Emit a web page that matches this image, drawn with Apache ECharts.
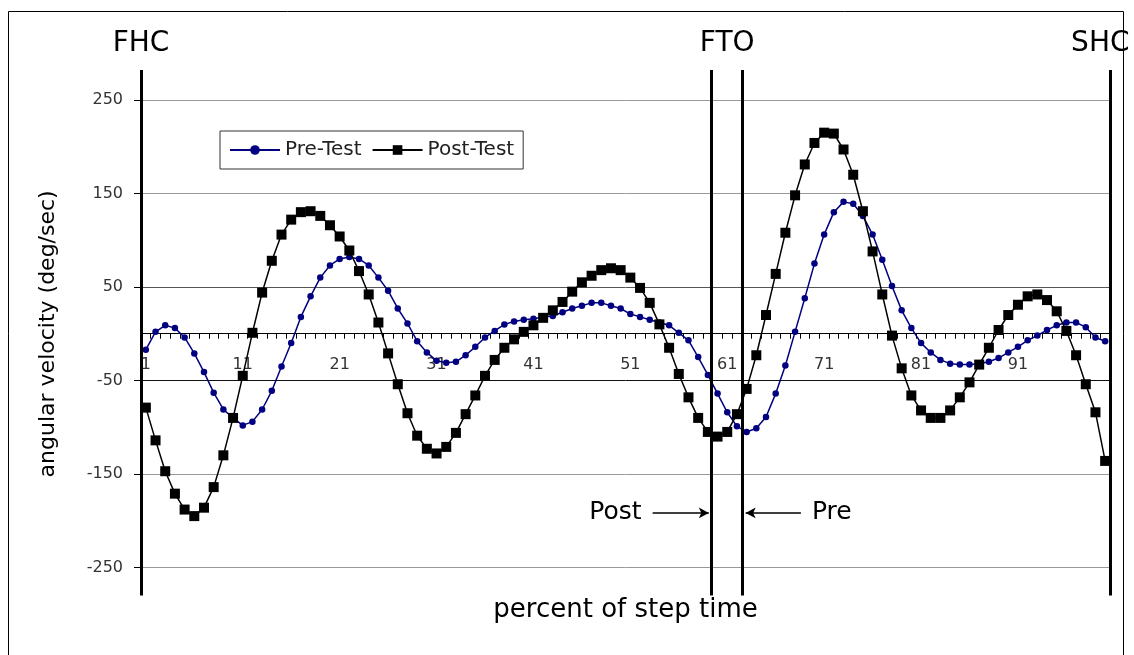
<!DOCTYPE html>
<html><head><meta charset="utf-8">
<script src="https://cdn.jsdelivr.net/npm/echarts@6/dist/echarts.min.js"></script>
<style>html,body{margin:0;padding:0;background:#fff}#c{width:1134px;height:655px}</style>
</head><body><div id="c"></div>
<script>
// ---- data ----
const categories = ['1','2','3','4','5','6','7','8','9','10','11','12','13','14','15','16','17','18','19','20',
  '21','22','23','24','25','26','27','28','29','30','31','32','33','34','35','36','37','38','39','40',
  '41','42','43','44','45','46','47','48','49','50','51','52','53','54','55','56','57','58','59','60',
  '61','62','63','64','65','66','67','68','69','70','71','72','73','74','75','76','77','78','79','80',
  '81','82','83','84','85','86','87','88','89','90','91','92','93','94','95','96','97','98','99','100'];

const preTest = [-17,2,9,6,-4,-21,-41,-63,-81,-90,
  -98,-94,-81,-61,-35,-10,18,40,60,73,
  80,82,80,73,60,46,27,11,-8,-20,
  -29,-31,-30,-23,-14,-4,3,10,13,15,
  16,18,19,23,27,30,33,33,30,27,
  21,18,15,12,9,1,-7,-25,-44,-64,
  -84,-99,-105,-101,-89,-64,-34,2,38,75,
  106,130,141,139,126,106,79,51,25,6,
  -10,-20,-28,-32,-33,-33,-32,-30,-26,-20,
  -14,-7,-2,4,9,12,12,7,-4,-8];

const postTest = [-79,-114,-147,-171,-188,-195,-186,-164,-130,-90,
  -45,1,44,78,106,122,130,131,126,116,
  104,89,67,42,12,-21,-54,-85,-109,-123,
  -128,-121,-106,-86,-66,-45,-28,-15,-6,2,
  9,17,25,34,45,55,62,68,70,68,
  60,49,33,10,-15,-43,-68,-90,-105,-110,
  -105,-86,-59,-23,20,64,108,148,181,204,
  215,214,197,170,131,88,42,-2,-37,-66,
  -82,-90,-90,-82,-68,-52,-33,-15,4,20,
  31,40,42,36,24,3,-23,-54,-84,-136];

const yTickStart = -250, yTickEnd = 250, yTickStep = 100;
const yMin = -280, yMax = 282;

// event markers (x in category units, 0.5 = left edge of first category)
const eventFHC = 0.5, eventSHC = 100.5, eventFTOpost = 59.4, eventFTOpre = 62.6;
const eventLabelFTO = 61, eventLabelSHC = 99.5;
const arrowY = -191.6;
const postArrow = [53.3, 59.1];
const preArrow = [68.6, 62.9];

// ---- chart ----
const FONT = 'DejaVu Sans';
const chart = echarts.init(document.getElementById('c'), null, {renderer: 'canvas'});

const gridTop = 70, gridBottom = 59.4;
const gridH = 655 - gridTop - gridBottom;
const zeroOffset = -(0 - yMin) / (yMax - yMin) * gridH;

const evLine = {color: '#000', width: 3, type: 'solid'};
const hidden = {color: 'rgba(0,0,0,0)', width: 0};
const bigLabel = (t) => ({show: true, position: 'end', formatter: t, fontSize: 28, color: '#000', fontFamily: FONT, distance: 12});

const option = {
  animation: false,
  textStyle: {fontFamily: FONT},
  graphic: [{
    type: 'rect', silent: true, z: 100,
    shape: {x: 8.5, y: 11.5, width: 1115, height: 700},
    style: {fill: 'none', stroke: '#000', lineWidth: 1}
  }],
  legend: {
    left: 220, top: 131, orient: 'horizontal',
    padding: [9, 9], itemGap: 10, itemWidth: 50, itemHeight: 12,
    borderColor: '#333', borderWidth: 1, backgroundColor: '#fff',
    textStyle: {fontSize: 20, color: '#222', fontFamily: FONT},
    data: ['Pre-Test', 'Post-Test']
  },
  grid: [
    {left: 141, right: 24, top: gridTop, bottom: gridBottom},
    {left: 141, right: 24, top: 100, bottom: 87.3}
  ],
  xAxis: [
    {
      type: 'category', gridIndex: 0, data: categories, boundaryGap: true,
      position: 'bottom', offset: zeroOffset,
      axisLine: {onZero: false, lineStyle: {color: '#000', width: 1}},
      axisTick: {show: true, interval: 0, length: 5, lineStyle: {color: '#000'}},
      axisLabel: {interval: (i) => i % 10 === 0, fontSize: 16, color: '#333', margin: 23, fontFamily: FONT},
      splitLine: {show: false}
    },
    {type: 'value', gridIndex: 0, min: 0.5, max: 100.5, show: false},
    {
      type: 'value', gridIndex: 1, min: 0, max: 1,
      axisLine: {show: false}, axisTick: {show: false}, axisLabel: {show: false}, splitLine: {show: false},
      name: 'percent of step time', nameLocation: 'middle', nameGap: 30,
      nameTextStyle: {fontSize: 26, color: '#000', fontFamily: FONT}
    }
  ],
  yAxis: [
    {type: 'value', gridIndex: 0, min: yMin, max: yMax, show: false},
    {
      type: 'value', gridIndex: 1, min: yTickStart, max: yTickEnd, interval: yTickStep,
      axisLine: {show: false},
      axisTick: {show: true, length: 7, lineStyle: {color: '#000'}},
      axisLabel: {fontSize: 16, color: '#333', margin: 18, fontFamily: FONT},
      splitLine: {show: true, lineStyle: {color: ['#999', '#999', '#111', '#555', '#999', '#999'], width: 1}},
      name: 'angular velocity (deg/sec)', nameLocation: 'middle', nameGap: 82, nameRotate: 90,
      nameTextStyle: {fontSize: 22, color: '#000', fontFamily: FONT}
    }
  ],
  series: [
    {
      name: 'Pre-Test', type: 'line', xAxisIndex: 0, yAxisIndex: 0, data: preTest,
      symbol: 'circle', symbolSize: 6.5, showAllSymbol: true,
      itemStyle: {color: '#000080'}, lineStyle: {color: '#000080', width: 1.5}, z: 3
    },
    {
      name: 'Post-Test', type: 'line', xAxisIndex: 0, yAxisIndex: 0, data: postTest,
      symbol: 'rect', symbolSize: 10, showAllSymbol: true,
      itemStyle: {color: '#000'}, lineStyle: {color: '#000', width: 1.5}, z: 4
    },
    {
      type: 'line', xAxisIndex: 1, yAxisIndex: 0, data: [], z: 5,
      markLine: {
        silent: true, animation: false, symbol: ['none', 'none'],
        data: [
          {xAxis: eventFHC, lineStyle: evLine, label: bigLabel('FHC')},
          {xAxis: eventSHC, lineStyle: evLine, label: {show: false}},
          {xAxis: eventLabelSHC, lineStyle: hidden, label: bigLabel('SHC')},
          {xAxis: eventFTOpost, lineStyle: evLine, label: {show: false}},
          {xAxis: eventFTOpre, lineStyle: evLine, label: {show: false}},
          {xAxis: eventLabelFTO, lineStyle: hidden, label: bigLabel('FTO')},
          [
            {coord: [postArrow[0], arrowY], symbol: 'none',
             lineStyle: {color: '#000', width: 1.5, type: 'solid'},
             label: {show: true, position: 'start', formatter: 'Post', fontSize: 25, color: '#000', fontFamily: FONT, distance: 11}},
            {coord: [postArrow[1], arrowY], symbol: 'arrow', symbolSize: [8, 10]}
          ],
          [
            {coord: [preArrow[0], arrowY], symbol: 'none',
             lineStyle: {color: '#000', width: 1.5, type: 'solid'},
             label: {show: true, position: 'start', formatter: 'Pre', fontSize: 25, color: '#000', fontFamily: FONT, distance: 11}},
            {coord: [preArrow[1], arrowY], symbol: 'arrow', symbolSize: [8, 10]}
          ]
        ]
      }
    }
  ]
};
chart.setOption(option);
</script>
</body></html>
